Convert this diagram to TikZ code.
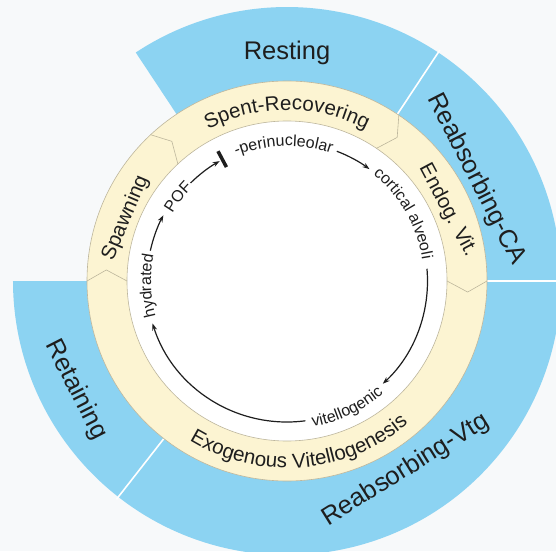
\documentclass[tikz,border=0pt]{standalone}
\usepackage{fontspec}
\setmainfont{Liberation Sans}
\usetikzlibrary{decorations.text,arrows.meta}
\definecolor{bluefill}{HTML}{8CD3F2}
\definecolor{yellowfill}{HTML}{FCF4D2}
\definecolor{bgcol}{HTML}{F7F9FA}
\definecolor{ringline}{HTML}{BDB69C}
\definecolor{inkcol}{HTML}{1E1E1E}
\newcommand\bluefont{\fontsize{25.5}{26}\selectfont}
\newcommand\yelfont{\fontsize{20.5}{21}\selectfont\color{inkcol}}
\newcommand\cycfont{\fontsize{16}{16}\selectfont\color{inkcol}}
\tikzset{
  bluelabel/.style={font=\bluefont, text=inkcol, inner sep=0pt, anchor=center},
  yellowlabel/.style={font=\yelfont, text=inkcol, inner sep=0pt, anchor=center},
  sepline/.style={draw=white, line width=1.6pt},
  chevron/.style={draw=ringline, line width=0.6pt},
  ringedge/.style={draw=ringline, line width=0.6pt},
  cyclearc/.style={draw=inkcol, line width=1.2pt},
  cyclearrow/.style={cyclearc, -{Stealth[length=7pt,width=5pt]}},
  barline/.style={draw=inkcol, line width=3.5pt},
  arctext/.style={decorate, decoration={text along path, text align=center, text={#1}}},
}
\begin{document}
\begin{tikzpicture}[x=1pt,y=1pt]
\useasboundingbox (-287,-270) rectangle (269,281);
\clip (-287,-270) rectangle (269,281);
\fill[bgcol] (-287,-270) rectangle (269,281);

% blue outer sectors
\foreach \a/\b in {56.5/123.5, 0/56.5, -128/0, 180/232} {
  \fill[bluefill] (\a:200) -- (\a:274) arc[start angle=\a, end angle=\b, radius=274]
    -- (\b:200) arc[start angle=\b, end angle=\a, radius=200] -- cycle;
}
\foreach \a in {56.5, 0, -128} {
  \draw[sepline] (\a:199) -- (\a:277);
}

% yellow ring
\fill[yellowfill] (0,0) circle[radius=200];
\fill[white] (0,0) circle[radius=160];
\draw[ringedge] (0,0) circle[radius=200];
\draw[ringedge] (0,0) circle[radius=160];
\foreach \a in {133, 56, 0, 180} {
  \draw[chevron] (\a:200) -- ({\a-3.5}:181) -- (\a:160);
}

% blue labels
\node[bluelabel] (resting) at (0,227.8) {Resting};
\node[bluelabel, rotate=-63] (reabca) at (28.3:214.8) {Reabsorbing-CA};
\node[bluelabel, rotate=32] (reabvtg) at (-57.8:223.3) {Reabsorbing-Vtg};
\node[bluelabel, rotate=-63] (retaining) at (207.3:237.5) {Retaining};

% yellow labels
\node[yellowlabel, rotate=67] (spawning) at (158.7:173.3) {Spawning};
\node[yellowlabel, rotate=-62] (endog) at (23.7:175.5) {Endog. Vit.};
\path[arctext={|\yelfont|Spent-Recovering}] (150:171) arc[start angle=150, end angle=30, radius=171];
\path[arctext={|\yelfont|Exogenous Vitellogenesis}] (-165.5:187) arc[start angle=-165.5, end angle=-5.5, radius=187];

% inner cycle labels
\path[arctext={|\cycfont|-perinucleolar}] (151.5:135) arc[start angle=151.5, end angle=31.5, radius=135];
\path[arctext={|\cycfont|cortical alveoli}] (80:137) arc[start angle=80, end angle=-20, radius=137];
\path[arctext={|\cycfont|vitellogenic}] (-114.6:148) arc[start angle=-114.6, end angle=-14.6, radius=148];
\path[arctext={|\cycfont|hydrated}] (232:136) arc[start angle=232, end angle=132, radius=136];
\path[arctext={|\cycfont|POF}] (172.4:133) arc[start angle=172.4, end angle=112.4, radius=133];

% cycle arrows
\draw[cyclearrow] (167.5:140) arc[start angle=167.5, end angle=152, radius=140];
\draw[cyclearrow] (134.5:137.5) arc[start angle=134.5, end angle=119.3, radius=137.5];
\draw[barline] (118:129) -- (118:147);
\draw[cyclearrow] (69:139) arc[start angle=69, end angle=53.6, radius=139];
\draw[cyclearrow] (5:140.5) arc[start angle=5, end angle=-47, radius=140.5];
\draw[cyclearrow] (-82.5:141) arc[start angle=-82.5, end angle=-162.5, radius=141];
\end{tikzpicture}
\end{document}
